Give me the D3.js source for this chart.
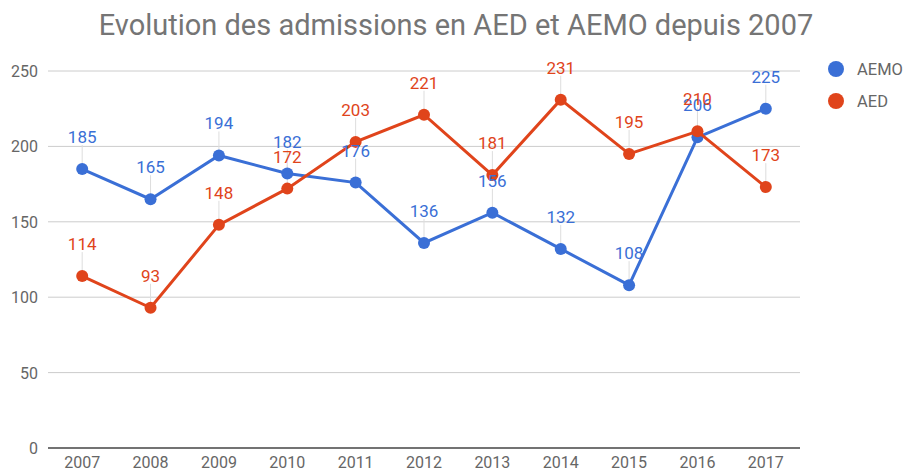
<!DOCTYPE html>
<html>
<head>
<meta charset="utf-8">
<script src="https://cdn.jsdelivr.net/npm/d3@7"></script>
<style>
  body { margin: 0; background: #fff; }
  text { font-family: Roboto, "Noto Sans", sans-serif; }
</style>
</head>
<body>
<svg width="906" height="473"></svg>
<script>
var years = ["2007","2008","2009","2010","2011","2012","2013","2014","2015","2016","2017"];
var aemo = [185, 165, 194, 182, 176, 136, 156, 132, 108, 206, 225];
var aed  = [114, 93, 148, 172, 203, 221, 181, 231, 195, 210, 173];
var yTicks = [0, 50, 100, 150, 200, 250];
var seriesNames = ["AEMO", "AED"];

var colors = {"AEMO": "#3a6fd6", "AED": "#e0441b"};

var svg = d3.select("svg"),
  width = +svg.attr("width"),
  height = +svg.attr("height");

// plot box
var plotL = 48, plotR = 800, plotT = 71, plotB = 448;

var x = d3.scaleBand().domain(years).range([plotL, plotR]);
var y = d3.scaleLinear().domain([0, 250]).range([plotB, plotT]);

// title
svg.append("text")
  .attr("x", 456)
  .attr("y", 35)
  .attr("text-anchor", "middle")
  .attr("font-size", "29px")
  .attr("fill", "#757575")
  .text("Evolution des admissions en AED et AEMO depuis 2007");

// gridlines + y labels
var yAxis = svg.append("g");
yAxis.selectAll("line")
  .data(yTicks)
  .enter()
  .append("line")
  .attr("x1", plotL).attr("x2", plotR)
  .attr("y1", function(d) { return y(d); })
  .attr("y2", function(d) { return y(d); })
  .attr("stroke", function(d) { return d == 0 ? "#444" : "#ccc"; })
  .attr("stroke-width", function(d) { return d == 0 ? 1.5 : 1; });

yAxis.selectAll("text")
  .data(yTicks)
  .enter()
  .append("text")
  .attr("x", 38)
  .attr("y", function(d) { return y(d) + 6; })
  .attr("text-anchor", "end")
  .attr("font-size", "16px")
  .attr("fill", "#666")
  .text(function(d) { return d; });

// x labels
svg.append("g").selectAll("text")
  .data(years)
  .enter()
  .append("text")
  .attr("x", function(d) { return x(d) + x.bandwidth() / 2; })
  .attr("y", 468)
  .attr("text-anchor", "middle")
  .attr("font-size", "16px")
  .attr("fill", "#666")
  .text(function(d) { return d; });

var cx = function(i) { return x(years[i]) + x.bandwidth() / 2; };

var series = [
  {name: "AEMO", values: aemo},
  {name: "AED", values: aed}
];

// leader lines first (below everything)
series.forEach(function(s) {
  svg.append("g").selectAll("line")
    .data(s.values)
    .enter()
    .append("line")
    .attr("x1", function(d, i) { return cx(i); })
    .attr("x2", function(d, i) { return cx(i); })
    .attr("y1", function(d) { return y(d) - 24; })
    .attr("y2", function(d) { return y(d); })
    .attr("stroke", "#ddd")
    .attr("stroke-width", 1);
});

var line = d3.line()
  .x(function(d, i) { return cx(i); })
  .y(function(d) { return y(d); });

series.forEach(function(s) {
  var g = svg.append("g");
  g.append("path")
    .datum(s.values)
    .attr("d", line)
    .attr("fill", "none")
    .attr("stroke", colors[s.name])
    .attr("stroke-width", 3);
  g.selectAll("circle")
    .data(s.values)
    .enter()
    .append("circle")
    .attr("cx", function(d, i) { return cx(i); })
    .attr("cy", function(d) { return y(d); })
    .attr("r", 6)
    .attr("fill", colors[s.name]);
});

// value labels
series.forEach(function(s) {
  svg.append("g").selectAll("text")
    .data(s.values)
    .enter()
    .append("text")
    .attr("x", function(d, i) { return cx(i); })
    .attr("y", function(d) { return y(d) - 26; })
    .attr("text-anchor", "middle")
    .attr("font-size", "17px")
    .attr("fill", colors[s.name])
    .text(function(d) { return d; });
});

// legend
var legend = svg.append("g").selectAll("g")
  .data(seriesNames)
  .enter()
  .append("g")
  .attr("transform", function(d, i) { return "translate(836," + (69 + i * 32) + ")"; });

legend.append("circle")
  .attr("r", 8)
  .attr("fill", function(d) { return colors[d]; });

legend.append("text")
  .attr("x", 21)
  .attr("y", 6)
  .attr("font-size", "16.5px")
  .attr("fill", "#666")
  .text(function(d) { return d; });
</script>
</body>
</html>
